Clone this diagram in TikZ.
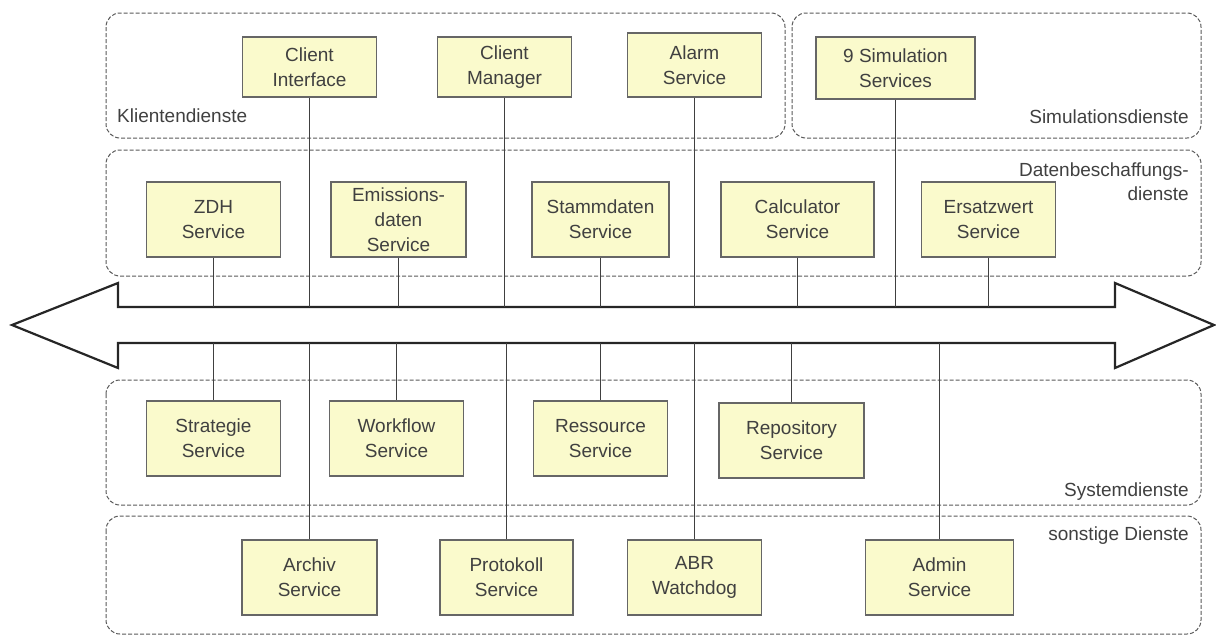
\documentclass[tikz,border=0pt]{standalone}
\usepackage{fontspec}
\setmainfont{Liberation Sans}
\definecolor{nodefill}{RGB}{250,250,204}
\begin{document}
\begin{tikzpicture}[x=1pt,y=-1pt,
  svc/.style={draw=black!60, line width=1.4pt, fill=nodefill, align=center,
    minimum height=75pt, minimum width=134pt, inner sep=0pt, text=black!75,
    font=\fontsize{19}{25}\selectfont},
  grp/.style={draw=black!65, line width=1pt, dash pattern=on 4pt off 2pt,
    rounded corners=14pt},
  glabel/.style={inner sep=0pt, text=black!75, font=\fontsize{19}{24}\selectfont},
  conn/.style={draw=black!75, line width=1.5pt},
  bus/.style={draw=black!85, line width=2.2pt, fill=white, line join=miter}]
\useasboundingbox (0,0) rectangle (1216,637);

% group boxes
\draw[grp] (106,13) rectangle (785,138);
\draw[grp] (792,13) rectangle (1201,138);
\draw[grp] (106,150) rectangle (1201,276);
\draw[grp] (106,380) rectangle (1201,505);
\draw[grp] (106,516) rectangle (1201,634);

\node[glabel, anchor=west] (lk) at (117,116) {Klientendienste};
\node[glabel, anchor=east] (ls) at (1189,117) {Simulationsdienste};
\node[glabel, anchor=east, align=right] (ld) at (1189,182) {Datenbeschaffungs-\\dienste};
\node[glabel, anchor=east] (lsy) at (1189,492) {Systemdienste};
\node[glabel, anchor=east] (lso) at (1189,536) {sonstige Dienste};

% bus arrow
\draw[bus] (12,325) -- (118,283) -- (118,307) -- (1115,307) -- (1115,283)
  -- (1214,325) -- (1115,368) -- (1115,343) -- (118,343) -- (118,368) -- cycle;
\coordinate (st) at (600,307);
\coordinate (sb) at (600,343);

% top row
\node[svc, minimum height=60pt] (ci) at (309.5,67) {Client\\Interface};
\node[svc, minimum height=60pt] (cm) at (504.5,67) {Client\\Manager};
\node[svc, minimum height=64pt] (al) at (694.5,65) {Alarm\\Service};
\node[svc, minimum height=62pt, minimum width=159pt] (sim) at (895.5,68) {9 Simulation\\Services};

% Datenbeschaffung
\node[svc] (zdh) at (213.5,219.5) {ZDH\\Service};
\node[svc, minimum width=135pt] (emi) at (398.5,219.5) {Emissions-\\daten\\Service};
\node[svc, minimum width=137pt] (stm) at (600.5,219.5) {Stammdaten\\Service};
\node[svc, minimum width=153pt] (calc) at (797.5,219.5) {Calculator\\Service};
\node[svc] (ers) at (988.5,219.5) {Ersatzwert\\Service};

% Systemdienste
\node[svc] (strat) at (213.5,438.5) {Strategie\\Service};
\node[svc] (work) at (396.5,438.5) {Workflow\\Service};
\node[svc] (res) at (600.5,438.5) {Ressource\\Service};
\node[svc, minimum width=145pt] (repo) at (791.5,440.5) {Repository\\Service};

% sonstige Dienste
\node[svc, minimum width=135pt] (arch) at (309.5,577.5) {Archiv\\Service};
\node[svc, minimum width=133pt] (prot) at (506.5,577.5) {Protokoll\\Service};
\node[svc] (abr) at (694.5,577.5) {ABR\\Watchdog};
\node[svc, minimum width=148pt] (adm) at (939.5,577.5) {Admin\\Service};

% connectors to the bus
\foreach \n in {ci,cm,al,sim,zdh,emi,stm,calc,ers}
  \draw[conn] (\n.south) -- (\n.south |- st);
\foreach \n in {strat,work,res,repo,arch,prot,abr,adm}
  \draw[conn] (\n.north |- sb) -- (\n.north);
\end{tikzpicture}
\end{document}
